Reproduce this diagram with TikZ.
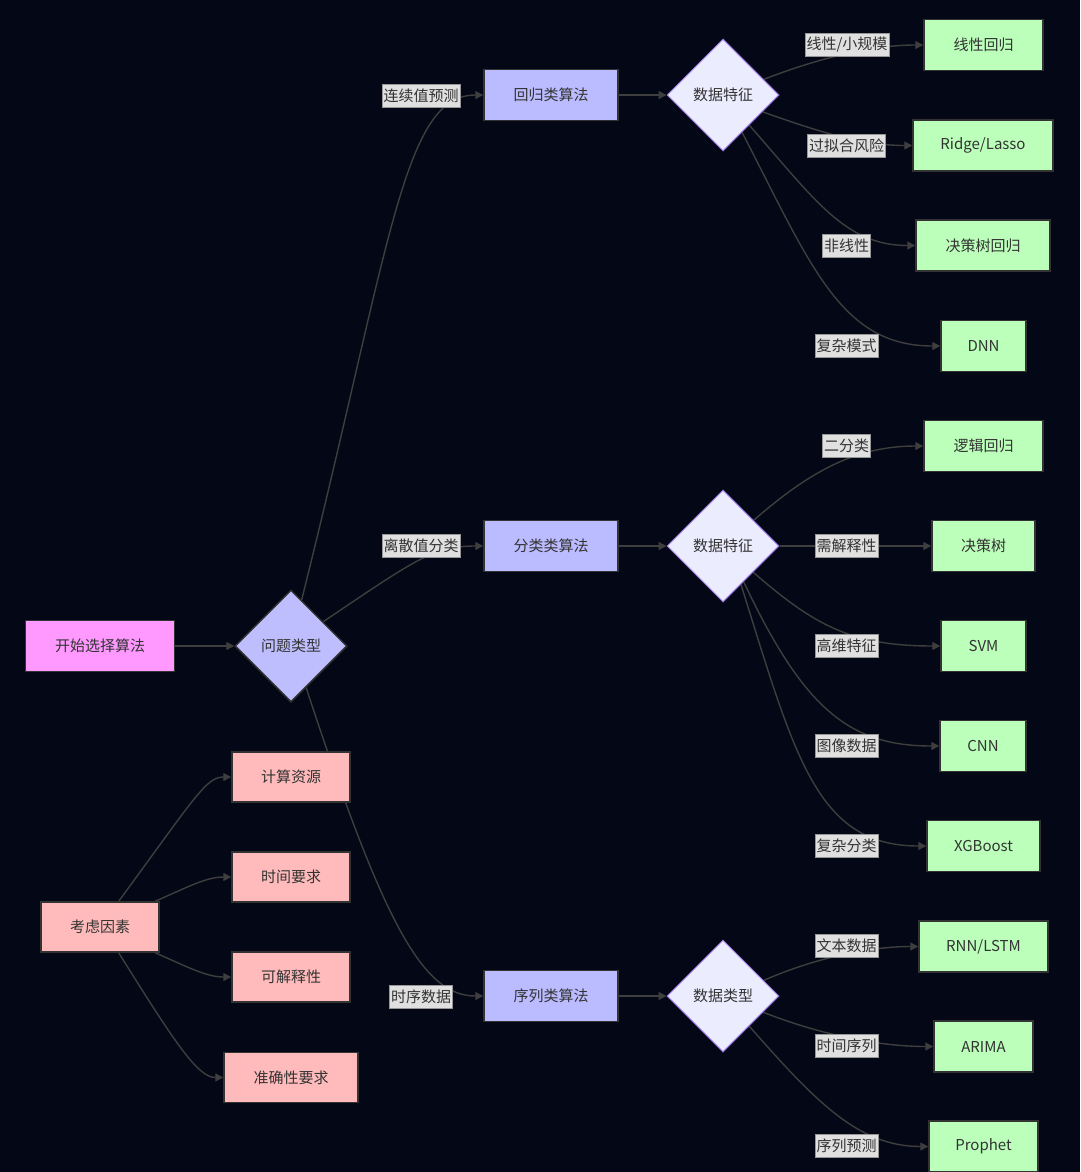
\documentclass[tikz,border=0pt]{standalone}
\usepackage{fontspec}
\setmainfont{Noto Sans CJK SC}
\usetikzlibrary{shapes.geometric,arrows.meta}
\definecolor{bgc}{RGB}{4,7,22}
\definecolor{bd}{RGB}{51,51,51}
\definecolor{tx}{RGB}{51,51,51}
\definecolor{startc}{RGB}{255,153,255}
\definecolor{algoc}{RGB}{187,187,255}
\definecolor{qc}{RGB}{190,190,255}
\definecolor{dc}{RGB}{236,236,255}
\definecolor{purp}{RGB}{147,112,219}
\definecolor{leafc}{RGB}{187,255,187}
\definecolor{factc}{RGB}{255,187,187}
\definecolor{labc}{RGB}{224,224,224}
\definecolor{labd}{RGB}{150,150,150}
\definecolor{ec}{RGB}{62,62,62}
\pgfdeclarelayer{bgl}
\pgfdeclarelayer{edgel}
\pgfsetlayers{bgl,edgel,main}
\tikzset{
  box/.style={rectangle, draw=bd, line width=1.5pt, text=tx, minimum height=51pt, inner sep=0pt},
  startbox/.style={box, fill=startc, minimum width=149pt},
  algo/.style={box, fill=algoc, minimum width=134pt},
  leaf/.style={box, fill=leafc},
  factor/.style={box, fill=factc, minimum height=50pt},
  qdia/.style={diamond, draw=bd, fill=qc, line width=1.5pt, minimum width=112pt, minimum height=112pt, inner sep=0pt, text=tx},
  ddia/.style={diamond, draw=purp, fill=dc, line width=1pt, minimum width=112pt, minimum height=112pt, inner sep=0pt, text=tx},
  lab/.style={rectangle, fill=labc, draw=labd, line width=0.8pt, inner xsep=1.5pt, inner ysep=0pt, minimum height=23pt, text=tx},
  edge/.style={draw=ec, line width=1.4pt},
  arr/.style={edge, -{Triangle[length=8pt,width=8pt]}}
}
\begin{document}
\begin{tikzpicture}[x=1pt,y=1pt,font=\fontsize{15}{18}\selectfont]
\useasboundingbox (0,0) rectangle (1080,-1172);
\begin{pgfonlayer}{bgl}
\fill[bgc] (0,0) rectangle (1080,-1172);
\end{pgfonlayer}

% main nodes
\node[startbox] (start) at (100,-646) {开始选择算法};
\node[qdia] (q) at (291,-646) {问题类型};
\node[algo] (reg) at (551,-95) {回归类算法};
\node[algo] (cls) at (551,-546) {分类类算法};
\node[algo] (seq) at (551,-996) {序列类算法};
\node[ddia] (d1) at (723,-95) {数据特征};
\node[ddia] (d2) at (723,-546) {数据特征};
\node[ddia] (d3) at (723,-996) {数据类型};

% leaves
\node[leaf, minimum width=119pt] (lf1) at (983.5,-45) {线性回归};
\node[leaf, minimum width=140pt] (lf2) at (983,-145.5) {Ridge/Lasso};
\node[leaf, minimum width=134pt] (lf3) at (983,-245.5) {决策树回归};
\node[leaf, minimum width=85pt] (lf4) at (983.5,-346) {DNN};
\node[leaf, minimum width=119pt] (lf5) at (983.5,-446) {逻辑回归};
\node[leaf, minimum width=103pt] (lf6) at (983.5,-546) {决策树};
\node[leaf, minimum width=85pt] (lf7) at (983.5,-646) {SVM};
\node[leaf, minimum width=86pt] (lf8) at (983,-746) {CNN};
\node[leaf, minimum width=113pt] (lf9) at (983.5,-846) {XGBoost};
\node[leaf, minimum width=129pt] (lf10) at (983.5,-946.5) {RNN/LSTM};
\node[leaf, minimum width=99pt] (lf11) at (983.5,-1046.5) {ARIMA};
\node[leaf, minimum width=109pt] (lf12) at (983.5,-1146.5) {Prophet};

% edge labels
\node[lab] (l1) at (847,-45) {线性/小规模};
\node[lab] (l2) at (846.5,-145.5) {过拟合风险};
\node[lab] (l3) at (846.5,-245.5) {非线性};
\node[lab] (l4) at (846.5,-346) {复杂模式};
\node[lab] (l5) at (846.5,-446) {二分类};
\node[lab] (l6) at (846.5,-546) {需解释性};
\node[lab] (l7) at (846.5,-646) {高维特征};
\node[lab] (l8) at (846.5,-746) {图像数据};
\node[lab] (l9) at (846.5,-846) {复杂分类};
\node[lab] (l10) at (846.5,-946) {文本数据};
\node[lab] (l11) at (846.5,-1046) {时间序列};
\node[lab] (l12) at (846.5,-1146) {序列预测};
\node[lab] (lc) at (421,-95.5) {连续值预测};
\node[lab] (ld) at (421,-546) {离散值分类};
\node[lab] (ls) at (421,-996.5) {时序数据};

% factors
\node[factor, minimum width=118pt] (fac) at (100,-927) {考虑因素};
\node[factor, minimum width=118pt] (c1) at (291,-777) {计算资源};
\node[factor, minimum width=118pt] (c2) at (291,-877) {时间要求};
\node[factor, minimum width=118pt] (c3) at (291,-977) {可解释性};
\node[factor, minimum width=134pt] (c4) at (291,-1077.5) {准确性要求};

\begin{pgfonlayer}{edgel}
\draw[arr] (start.east) -- (q.west);
\draw[arr] (q.77) .. controls +(90,360) and +(-80,0) .. (reg.west);
\draw[arr] (q.37) .. controls +(92,62) and +(-50,0) .. (cls.west);
\draw[arr] (q.-70) .. controls +(78,-238) and +(-60,0) .. (seq.west);
\draw[arr] (reg.east) -- (d1.west);
\draw[arr] (cls.east) -- (d2.west);
\draw[arr] (seq.east) -- (d3.west);
% regression leaves
\draw[arr] (d1.21) .. controls +(57,22) and +(-50,0) .. (lf1.west);
\draw[arr] (d1.-23) .. controls +(56,-20) and +(-50,0) .. (lf2.west);
\draw[arr] (d1.-49) .. controls +(66,-75) and +(-70,0) .. (lf3.west);
\draw[arr] (d1.-63) .. controls +(69,-133) and +(-100,0) .. (lf4.west);
% classification leaves
\draw[arr] (d2.40) .. controls +(53,46) and +(-70,0) .. (lf5.west);
\draw[arr] (d2.east) -- (lf6.west);
\draw[arr] (d2.-41) .. controls +(60,-52) and +(-90,0) .. (lf7.west);
\draw[arr] (d2.-60) .. controls +(60,-127) and +(-90,0) .. (lf8.west);
\draw[arr] (d2.-65) .. controls +(54,-172) and +(-110,0) .. (lf9.west);
% sequence leaves
\draw[arr] (d3.21) .. controls +(55,24) and +(-45,0) .. (lf10.west);
\draw[arr] (d3.-22) .. controls +(56,-22) and +(-55,0) .. (lf11.west);
\draw[arr] (d3.-49) .. controls +(66,-75) and +(-70,0) .. (lf12.west);
% factors
\draw[arr] (fac.54) .. controls +(77,105) and +(-25,0) .. (c1.west);
\draw[arr] (fac.25.7) .. controls +(32,14) and +(-25,0) .. (c2.west);
\draw[arr] (fac.-25.7) .. controls +(32,-14) and +(-25,0) .. (c3.west);
\draw[arr] (fac.-54) .. controls +(58,-93) and +(-25,0) .. (c4.west);
\end{pgfonlayer}
\end{tikzpicture}
\end{document}
